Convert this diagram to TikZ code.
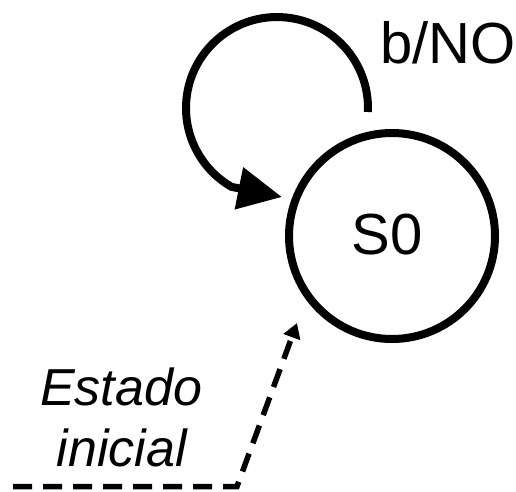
\documentclass[tikz,border=0pt]{standalone}
\usepackage{fontspec}
\setmainfont{Liberation Sans}
\usetikzlibrary{arrows.meta}
\begin{document}
\begin{tikzpicture}[x=1pt,y=1pt,
  statebox/.style={circle,draw,line width=8pt,minimum size=206pt,inner sep=0pt},
  bigtext/.style={font=\fontsize{58}{70}\selectfont,inner sep=0pt,anchor=base},
  notetext/.style={font=\fontsize{52}{62}\selectfont\itshape,inner sep=0pt,anchor=base},
  loopline/.style={line width=8pt,-{Triangle[length=44pt,width=41pt]}},
  initline/.style={line width=5.5pt,dash pattern=on 19pt off 11pt,-{Triangle[length=15pt,width=17pt]}}]
\useasboundingbox (0,0) rectangle (516,491);
\node[statebox] (s0) at (392,255) {};
\node[bigtext] (s0label) at (387,237) {S0};
\node[bigtext] (looplabel) at (448,427) {b/NO};
\node[notetext] (est) at (121,86) {Estado};
\node[notetext] (ini) at (122,24.5) {inicial};
\coordinate (loopstart) at (367.9,379);
\coordinate (looptip) at (282,294);
\draw[loopline] (loopstart) arc[start angle=-2.5,end angle=240,radius=91] -- (looptip);
\coordinate (initstart) at (13,4.5);
\coordinate (initcorner) at (237,4.5);
\coordinate (inittip) at (297,168);
\draw[initline] (initstart) -- (initcorner) -- (inittip);
\end{tikzpicture}
\end{document}
